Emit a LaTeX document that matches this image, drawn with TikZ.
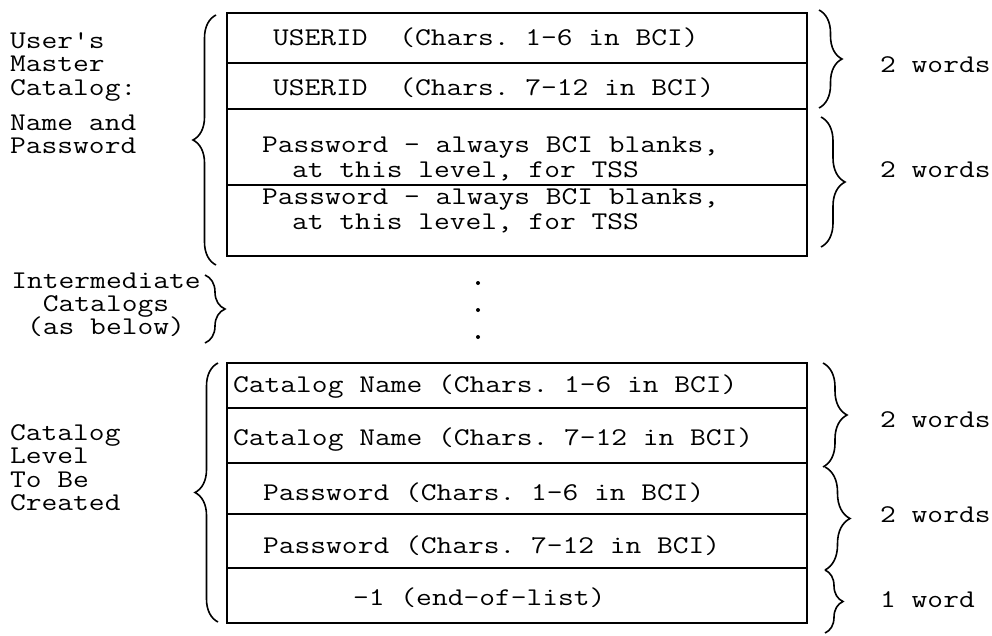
\documentclass[tikz,border=0pt]{standalone}
\usepackage{fontspec}
\setmonofont{Latin Modern Mono}[FakeStretch=1.2]
\usetikzlibrary{decorations.pathreplacing}
\begin{document}
\begin{tikzpicture}[x=1pt,y=-1pt,
  txt/.style={font=\ttfamily\fontsize{25.5}{23.3}\selectfont, inner sep=0pt, text height=14pt, text depth=3pt},
  lbl/.style={txt, anchor=base west},
  ctr/.style={txt, anchor=base},
  rowbox/.style={draw, line width=1.3pt, minimum width=580pt, inner sep=0pt},
  curly/.style={decorate, decoration={brace, amplitude=#1, aspect=0.5}, line width=1.6pt}
]
\useasboundingbox (0,0) rectangle (992,635);

% top box rows
\node[rowbox, minimum height=50pt] (r1) at (517,38) {};
\node[rowbox, minimum height=46pt] (r2) at (517,86) {};
\node[rowbox, minimum height=76pt] (r3) at (517,147) {};
\node[rowbox, minimum height=71pt] (r4) at (517,220.5) {};

% bottom box rows
\node[rowbox, minimum height=45pt] (s1) at (517,385.5) {};
\node[rowbox, minimum height=55pt] (s2) at (517,435.5) {};
\node[rowbox, minimum height=51pt] (s3) at (517,488.5) {};
\node[rowbox, minimum height=54pt] (s4) at (517,541) {};
\node[rowbox, minimum height=55pt] (s5) at (517,595.5) {};

% texts in top rows
\node[lbl] (t1) at (273,45.5) {USERID\ \ (Chars. 1-6 in BCI)};
\node[lbl] (t2) at (273,95.5) {USERID\ \ (Chars. 7-12 in BCI)};
\node[lbl] (t3a) at (262,152.5) {Password - always BCI blanks,};
\node[lbl] (t3b) at (292,177.5) {at this level, for TSS};
\node[lbl] (t4a) at (262,204.5) {Password - always BCI blanks,};
\node[lbl] (t4b) at (292,229.5) {at this level, for TSS};

% texts in bottom rows
\node[lbl] (u1) at (233,392.5) {Catalog Name (Chars. 1-6 in BCI)};
\node[lbl] (u2) at (233,445.5) {Catalog Name (Chars. 7-12 in BCI)};
\node[lbl] (u3) at (263,500.5) {Password (Chars. 1-6 in BCI)};
\node[lbl] (u4) at (263,553.5) {Password (Chars. 7-12 in BCI)};
\node[lbl] (u5) at (353,605.5) {-1 (end-of-list)};

% dots
\fill (478,283) circle (2);
\fill (478,310) circle (2);
\fill (478,337) circle (2);

% left labels
\node[lbl] (a1) at (10,48) {User's};
\node[lbl] (a2) at (10,71.5) {Master};
\node[lbl] (a3) at (10,95) {Catalog:};
\node[lbl] (a4) at (10,130) {Name and};
\node[lbl] (a5) at (10,153) {Password};

\node[ctr] (i1) at (106,288) {Intermediate};
\node[ctr] (i2) at (106,311) {Catalogs};
\node[ctr] (i3) at (106,334) {(as below)};

\node[lbl] (c1) at (10,440) {Catalog};
\node[lbl] (c2) at (10,463) {Level};
\node[lbl] (c3) at (10,487) {To Be};
\node[lbl] (c4) at (10,510) {Created};

% right labels
\node[lbl] (w1) at (880,72) {2 words};
\node[lbl] (w2) at (880,177) {2 words};
\node[lbl] (w3) at (880,427) {2 words};
\node[lbl] (w4) at (880,522) {2 words};
\node[lbl] (w5) at (880,607) {1 word};

% braces
\coordinate (L1a) at (216,265); \coordinate (L1b) at (216,15);
\draw[curly=23pt] (L1a) -- (L1b);
\coordinate (L2a) at (218,622); \coordinate (L2b) at (218,363);
\draw[curly=23pt] (L2a) -- (L2b);
\coordinate (Ia) at (205,275); \coordinate (Ib) at (205,343);
\draw[curly=20pt] (Ia) -- (Ib);

\coordinate (T1a) at (819,10); \coordinate (T1b) at (819,108);
\draw[curly=23pt] (T1a) -- (T1b);
\coordinate (T2a) at (821,117); \coordinate (T2b) at (821,247);
\draw[curly=24pt] (T2a) -- (T2b);
\coordinate (B1a) at (823,363); \coordinate (B1b) at (823,467);
\draw[curly=24pt] (B1a) -- (B1b);
\coordinate (B2a) at (825,467); \coordinate (B2b) at (825,570);
\draw[curly=25pt] (B2a) -- (B2b);
\coordinate (B3a) at (825,570); \coordinate (B3b) at (825,633);
\draw[curly=18pt] (B3a) -- (B3b);
\end{tikzpicture}
\end{document}
